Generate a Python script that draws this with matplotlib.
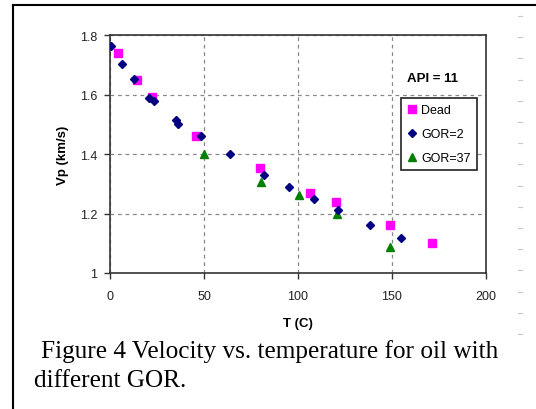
import numpy as np
import matplotlib
matplotlib.use("Agg")
from matplotlib import pyplot as plt
from matplotlib.lines import Line2D

# Data: T in C, Vp in km/s
dead_T = [4.2, 14.2, 22.4, 45.6, 79.6, 106.4, 120.4, 148.9, 171.1]
dead_vp = [1.738, 1.649, 1.592, 1.461, 1.353, 1.269, 1.239, 1.163, 1.101]

gor2_T = [0.4, 6.5, 12.7, 20.9, 23.3, 34.9, 36.4, 48.4, 64.0, 81.8, 95.1, 108.5, 121.3, 138.5, 154.7]
gor2_vp = [1.762, 1.702, 1.652, 1.587, 1.578, 1.515, 1.502, 1.461, 1.401, 1.329, 1.288, 1.249, 1.212, 1.161, 1.116]

gor37_T = [49.8, 80.5, 100.5, 120.5, 149.1]
gor37_vp = [1.399, 1.306, 1.261, 1.197, 1.089]

x_ticks = [0, 50, 100, 150, 200]
y_ticks = [1.0, 1.2, 1.4, 1.6, 1.8]
y_tick_labels = ["1", "1.2", "1.4", "1.6", "1.8"]

plt.rcParams['font.family'] = ['Liberation Sans', 'DejaVu Sans']

W, H = 536, 410
fig = plt.figure(figsize=(W / 100, H / 100), dpi=100)
ax = fig.add_axes([110 / W, 1 - 274 / H, 376 / W, 238 / H])

ax.plot(dead_T, dead_vp, 's', color='#ff00ff', markersize=5.2, mec='#ff00ff', label='Dead', zorder=3)
ax.plot(gor2_T, gor2_vp, 'D', color='#000080', markersize=4.3, mec='#000080', label='GOR=2', zorder=4)
ax.plot(gor37_T, gor37_vp, '^', color='#008000', markersize=5.5, mec='#008000', label='GOR=37', zorder=3)

ax.set_xlim(0, 200)
ax.set_ylim(1.0, 1.8)
ax.set_xticks(x_ticks)
ax.set_yticks(y_ticks)
ax.set_yticklabels(y_tick_labels)
ax.tick_params(labelsize=9, length=4, width=1, color='#333333', labelcolor='#222222')
ax.tick_params(axis='x', pad=8)
ax.tick_params(axis='y', pad=5)
ax.grid(True, color='#888888', linestyle=(0, (3, 3)), linewidth=0.9)
for s in ax.spines.values():
    s.set_color('#333333')
    s.set_linewidth(1.2)

ax.set_xlabel('T (C)', fontsize=9.5, fontweight='bold', labelpad=11)
ax.set_ylabel('Vp (km/s)', fontsize=9.5, fontweight='bold', labelpad=8)

ax.text(0.79, 0.805, 'API = 11', transform=ax.transAxes, fontsize=9.5, fontweight='bold')

leg = ax.legend(loc='upper left', bbox_to_anchor=(0.774, 0.735), fontsize=9,
                fancybox=False, framealpha=1, edgecolor='#222222', handlelength=0.8,
                handletextpad=0.3, labelspacing=0.95, borderpad=0.5, borderaxespad=0)
leg.get_frame().set_linewidth(1.2)

# caption below the chart
fig.text(41 / W, 1 - 352 / H, 'Figure 4 Velocity vs. temperature for oil with',
         family='Liberation Serif', fontsize=18.2, va='center')
fig.text(34 / W, 1 - 381 / H, 'different GOR.',
         family='Liberation Serif', fontsize=18.2, va='center')

# page border (top and left) and faint margin dashes
fig.add_artist(Line2D([13 / W, 13 / W], [0, 1 - 6 / H], color='black', lw=1.5))
fig.add_artist(Line2D([13 / W, 1], [1 - 6 / H, 1 - 6 / H], color='black', lw=1.5))
for i in range(16):
    yy = 1 - (17 + 21.2 * i) / H
    fig.add_artist(Line2D([518 / W, 522 / W], [yy, yy], color='#c8c8c8', lw=0.8))

fig.savefig('out.png', dpi=100)
